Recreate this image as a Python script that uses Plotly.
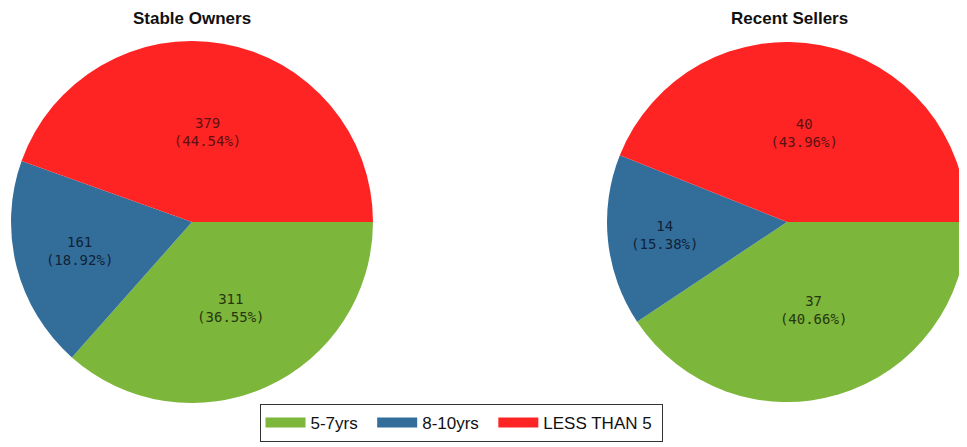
import plotly.graph_objects as go

categories = ["5-7yrs", "8-10yrs", "LESS THAN 5"]
stable_owners = [311, 161, 379]
recent_sellers = [37, 14, 40]
chart_titles = ["Stable Owners", "Recent Sellers"]

slice_colors = ["#7cb63a", "#336e9b", "#ff2424"]
text_colors = ["#26370f", "#0f2236", "#5e1010"]

# page body has an 8px margin, so the figure is sized to fill the rest of the window
W, H = 959, 439
fig = go.Figure()

common = dict(
    labels=categories,
    sort=False,
    direction="clockwise",
    rotation=90,
    marker=dict(colors=slice_colors, line=dict(width=0)),
    texttemplate="%{value}<br>(%{percent:.2%})",
    textposition="inside",
    insidetextorientation="horizontal",
    textfont=dict(family="DejaVu Sans Mono", size=14, color=text_colors),
    showlegend=False,
)

fig.add_trace(go.Pie(values=stable_owners, name=chart_titles[0],
                     domain=dict(x=[3 / W, 365 / W], y=[0, 1]), **common))
fig.add_trace(go.Pie(values=recent_sellers, name=chart_titles[1],
                     domain=dict(x=[599 / W, 1.0], y=[0, 1]), **common))

# legend entries (wide swatches); non-breaking spaces widen the gap between entries
for i, (name, col) in enumerate(zip(categories, slice_colors)):
    pad = "\u00a0\u00a0" if i < len(categories) - 1 else "\u00a0"
    fig.add_trace(go.Scatter(x=[None], y=[None], mode="lines", name=name + pad,
                             line=dict(color=col, width=14), showlegend=True,
                             hoverinfo="skip"))

for title, xc in zip(chart_titles, [184 / W, 781 / W]):
    fig.add_annotation(text="<b>" + title + "</b>", x=xc, y=1, xref="paper", yref="paper",
                       xanchor="center", yanchor="bottom", yshift=10, showarrow=False,
                       font=dict(family="Liberation Sans", size=17, color="#111111"))

fig.update_layout(
    width=W, height=H,
    margin=dict(l=0, r=0, t=32, b=43),
    paper_bgcolor="white", plot_bgcolor="white",
    xaxis=dict(visible=False), yaxis=dict(visible=False),
    legend=dict(orientation="h", x=453 / W, xanchor="center", y=0, yanchor="top",
                bordercolor="#333333", borderwidth=1,
                font=dict(family="Liberation Sans", size=17, color="#111111"),
                itemwidth=40),
)

fig.write_html("out.html")
